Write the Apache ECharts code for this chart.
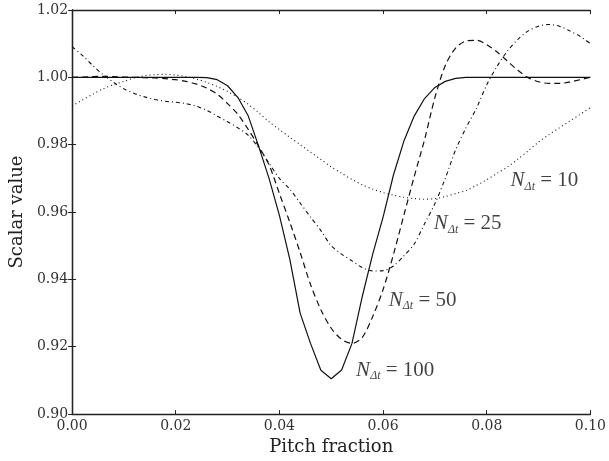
<!DOCTYPE html>
<html>
<head>
<meta charset="utf-8">
<script src="https://cdn.jsdelivr.net/npm/echarts@6/dist/echarts.min.js"></script>
<style>html,body{margin:0;padding:0;background:#fff}#c{width:609px;height:461px}</style>
</head>
<body>
<div id="c"></div>
<script>
// Pitch fraction samples (step 0.002)
const pitch = [];
for (let i = 0; i <= 50; i++) pitch.push(+(i * 0.002).toFixed(3));

const n100 = [1.0000,1.0000,1.0000,1.0000,1.0000,1.0000,1.0000,1.0000,1.0000,1.0000,
  1.0000,1.0000,1.0000,0.9999,0.9993,0.9975,0.9940,0.9885,0.9795,0.9700,
  0.9590,0.9460,0.9300,0.9210,0.9130,0.9105,0.9131,0.9210,0.9350,0.9475,
  0.9585,0.9710,0.9810,0.9885,0.9937,0.9970,0.9988,0.9997,1.0000,1.0000,
  1.0000,1.0000,1.0000,1.0000,1.0000,1.0000,1.0000,1.0000,1.0000,1.0000,1.0000];

const n50 = [1.0000,1.0001,1.0002,1.0003,1.0002,1.0001,1.0000,0.9999,0.9998,0.9996,
  0.9993,0.9988,0.9980,0.9968,0.9950,0.9922,0.9890,0.9845,0.9795,0.9740,
  0.9655,0.9570,0.9480,0.9385,0.9310,0.9255,0.9222,0.9210,0.9228,0.9290,
  0.9370,0.9474,0.9590,0.9705,0.9815,0.9940,1.0035,1.0087,1.0108,1.0110,
  1.0097,1.0075,1.0048,1.0021,0.9999,0.9987,0.9982,0.9982,0.9986,0.9993,1.0000];

const n25 = [1.0091,1.0065,1.0035,1.0008,0.9985,0.9966,0.9952,0.9942,0.9934,0.9929,
  0.9926,0.9922,0.9914,0.9902,0.9885,0.9868,0.9850,0.9828,0.9790,0.9745,
  0.9700,0.9668,0.9627,0.9585,0.9545,0.9500,0.9475,0.9455,0.9435,0.9425,
  0.9426,0.9440,0.9470,0.9505,0.9565,0.9625,0.9700,0.9785,0.9850,0.9908,
  0.9978,1.0033,1.0078,1.0113,1.0138,1.0152,1.0157,1.0152,1.0138,1.0122,1.0100];

const n10 = [0.9915,0.9933,0.9950,0.9966,0.9978,0.9988,0.9998,1.0005,1.0008,1.0009,
  1.0007,1.0002,0.9995,0.9985,0.9973,0.9958,0.9940,0.9920,0.9895,0.9868,
  0.9845,0.9822,0.9800,0.9778,0.9756,0.9734,0.9715,0.9697,0.9681,0.9668,
  0.9658,0.9650,0.9644,0.9640,0.9638,0.9640,0.9646,0.9655,0.9664,0.9679,
  0.9696,0.9715,0.9734,0.9757,0.9782,0.9808,0.9830,0.9850,0.9870,0.9890,0.9910];

const xTicks = [0.00, 0.02, 0.04, 0.06, 0.08, 0.10];
const yTicks = [0.90, 0.92, 0.94, 0.96, 0.98, 1.00, 1.02];

// curve annotations: [x, y, subscript-less count]
const labelPos = [[0.0846, 0.9694, '10'], [0.0698, 0.9565, '25'], [0.0611, 0.9338, '50'], [0.0548, 0.9130, '100']];

const pairs = v => pitch.map((x, i) => [x, v[i]]);
const ink = '#222';

const baseAxis = {
  type: 'value',
  axisLine: { show: true, lineStyle: { color: ink, width: 1.3 } },
  axisTick: { show: true, inside: true, length: 4, lineStyle: { color: ink, width: 1 } },
  splitLine: { show: false },
};

const chart = echarts.init(document.getElementById('c'));
chart.setOption({
  animation: false,
  backgroundColor: '#fff',
  grid: { left: 66, right: 16, top: 10, bottom: 43 },
  xAxis: [
    Object.assign({}, baseAxis, {
      min: xTicks[0], max: xTicks[xTicks.length - 1], interval: 0.02, position: 'bottom',
      name: 'Pitch fraction', nameLocation: 'middle', nameGap: 19,
      nameTextStyle: { fontFamily: 'DejaVu Serif', fontSize: 18, color: ink },
      axisLabel: { fontFamily: 'DejaVu Serif', fontSize: 14, color: '#333', margin: 5,
        formatter: v => v.toFixed(2) }
    }),
    Object.assign({}, baseAxis, {
      min: xTicks[0], max: xTicks[xTicks.length - 1], interval: 0.02, position: 'top',
      axisLabel: { show: false }
    })
  ],
  yAxis: [
    Object.assign({}, baseAxis, {
      min: yTicks[0], max: yTicks[yTicks.length - 1], interval: 0.02, position: 'left',
      name: 'Scalar value', nameLocation: 'middle', nameGap: 38,
      nameTextStyle: { fontFamily: 'DejaVu Serif', fontSize: 18, color: ink },
      axisLabel: { fontFamily: 'DejaVu Serif', fontSize: 14, color: '#333', margin: 4,
        formatter: v => v.toFixed(2) }
    }),
    Object.assign({}, baseAxis, {
      min: yTicks[0], max: yTicks[yTicks.length - 1], interval: 0.02, position: 'right',
      axisLabel: { show: false }
    })
  ],
  series: [
    { type: 'line', data: pairs(n100), showSymbol: false, smooth: false,
      lineStyle: { color: '#111', width: 1.2, type: 'solid' } },
    { type: 'line', data: pairs(n50), showSymbol: false, smooth: 0.3,
      lineStyle: { color: '#111', width: 1.2, type: [6, 4] } },
    { type: 'line', data: pairs(n25), showSymbol: false, smooth: 0.3,
      lineStyle: { color: '#111', width: 1.1, type: [4, 3, 1, 3] } },
    { type: 'line', data: pairs(n10), showSymbol: false, smooth: 0.3,
      lineStyle: { color: '#111', width: 1.1, type: [1, 3] } },
    { type: 'scatter', symbolSize: 0, silent: true,
      data: labelPos.map(p => ({ value: [p[0], p[1]], name: p[2] })),
      label: {
        show: true, position: 'right', distance: 0,
        formatter: p => '{n|N}{s|Δt}{e| = ' + p.name + '}',
        rich: {
          n: { fontFamily: 'Liberation Serif', fontStyle: 'italic', fontSize: 21, color: '#111', lineHeight: 28, verticalAlign: 'middle' },
          s: { fontFamily: 'Liberation Serif', fontStyle: 'italic', fontSize: 12, color: '#111', lineHeight: 28, verticalAlign: 'bottom', padding: [0, 0, 2, 0] },
          e: { fontFamily: 'Liberation Serif', fontSize: 21, color: '#111', lineHeight: 28, verticalAlign: 'middle' }
        }
      }
    }
  ]
});
</script>
</body>
</html>
